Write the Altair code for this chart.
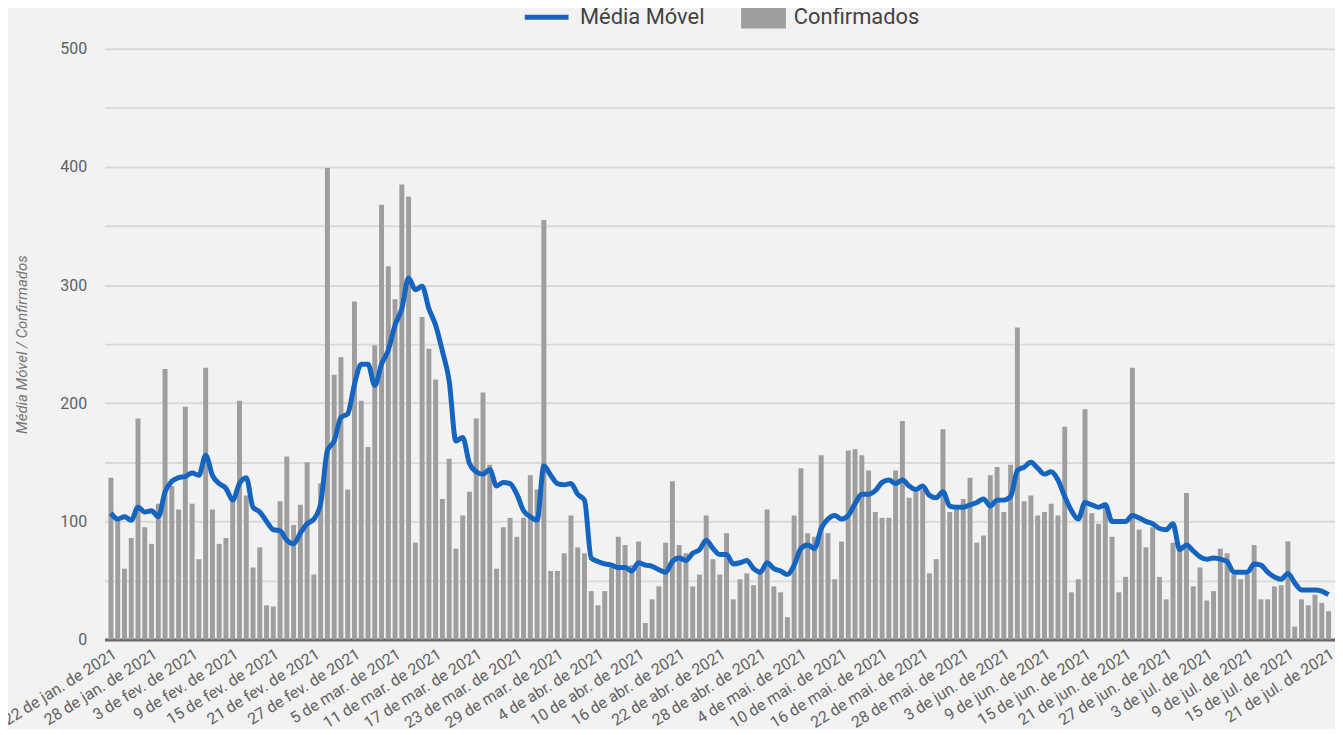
import datetime as dt
import altair as alt
import pandas as pd

# Casos confirmados diários
confirmados = [
    137, 103, 60, 86, 187, 95, 81, 115, 229, 130,
    110, 197, 115, 68, 230, 110, 81, 86, 118, 202,
    122, 61, 78, 29, 28, 117, 155, 97, 114, 150,
    55, 132, 399, 224, 239, 127, 286, 202, 163, 249,
    368, 316, 288, 385, 375, 82, 273, 246, 220, 119,
    153, 77, 105, 125, 187, 209, 148, 60, 95, 103,
    87, 103, 139, 127, 355, 58, 58, 73, 105, 78,
    73, 41, 29, 41, 61, 87, 80, 63, 83, 14,
    34, 45, 82, 134, 80, 73, 45, 55, 105, 68,
    55, 90, 34, 51, 56, 46, 57, 110, 45, 40,
    19, 105, 145, 90, 87, 156, 90, 51, 83, 160,
    161, 156, 143, 108, 103, 103, 143, 185, 120, 125,
    127, 56, 68, 178, 108, 110, 119, 137, 82, 88,
    139, 146, 108, 148, 264, 117, 122, 105, 108, 115,
    105, 180, 40, 51, 195, 107, 98, 114, 87, 40,
    53, 230, 93, 78, 95, 53, 34, 82, 80, 124,
    45, 61, 33, 41, 77, 73, 55, 51, 55, 80,
    34, 34, 45, 46, 83, 11, 34, 29, 38, 31,
    24,
]

# Média móvel
media_movel = [
    107, 102, 104, 101, 112, 108, 109, 104, 125, 134,
    137, 138, 141, 139, 156, 139, 132, 128, 118, 132,
    137, 112, 108, 100, 93, 92, 84, 81, 90, 98,
    102, 115, 160, 168, 188, 191, 216, 233, 233, 215,
    233, 245, 266, 280, 306, 296, 299, 280, 266, 244,
    219, 168, 171, 149, 142, 140, 144, 130, 133, 132,
    123, 109, 104, 101, 147, 139, 132, 131, 132, 123,
    118, 69, 66, 64, 63, 61, 61, 58, 65, 63,
    62, 59, 57, 66, 69, 67, 73, 76, 84, 77,
    72, 72, 64, 65, 67, 60, 57, 65, 60, 58,
    55, 63, 77, 80, 77, 94, 102, 105, 102, 105,
    115, 123, 123, 126, 133, 135, 132, 135, 130, 127,
    130, 122, 120, 125, 113, 112, 112, 114, 116, 119,
    113, 118, 118, 121, 143, 146, 150, 145, 140, 142,
    135, 121, 109, 102, 116, 114, 112, 114, 100, 100,
    100, 105, 103, 100, 98, 94, 93, 98, 76, 80,
    75, 70, 68, 69, 68, 66, 57, 57, 57, 64,
    63, 57, 53, 51, 56, 48, 42, 42, 42, 41,
    38,
]

MESES = ["jan.", "fev.", "mar.", "abr.", "mai.", "jun.", "jul."]
inicio = dt.date(2021, 1, 22)
dias = [inicio + dt.timedelta(days=i) for i in range(len(confirmados))]
rotulos = [f"{d.day} de {MESES[d.month - 1]} de {d.year}" for d in dias]
rotulos_eixo = rotulos[::6]

df = pd.DataFrame({
    "dia": rotulos,
    "conf": confirmados,
    "media": media_movel,
    "serie_bar": "Confirmados",
    "serie_linha": "Média Móvel",
})

FONT = "Roboto"

x_enc = alt.X(
    "dia:N",
    sort=None,
    scale=alt.Scale(paddingInner=0.27, paddingOuter=0.59),
    axis=alt.Axis(
        values=rotulos_eixo, labelAngle=-32, labelAlign="right", labelBaseline="top",
        labelPadding=6, ticks=False, tickSize=0, domain=True, domainColor="#666666",
        domainWidth=3, grid=False, title=None, labelFontSize=16, labelColor="#616161",
        labelOverlap=False, labelFont=FONT, labelBound=False,
    ),
)

y_axis = alt.Axis(
    values=list(range(0, 501, 50)),
    labelExpr="datum.value % 100 == 0 ? datum.label : ''",
    domain=False, ticks=False, tickSize=0, labelPadding=18,
    labelFontSize=16, labelColor="#616161", labelFont=FONT,
    grid=True, gridColor="#d9d9d9", gridWidth=2,
    title="Média Móvel / Confirmados", titleFontStyle="italic", titleFontWeight="normal",
    titleFontSize=15, titleColor="#757575", titleFont=FONT, titlePadding=30,
)
y_scale = alt.Scale(domain=[0, 500], nice=False)

barras = alt.Chart(df).mark_bar(color="#9e9e9e").encode(
    x=x_enc,
    y=alt.Y("conf:Q", scale=y_scale, axis=y_axis),
    fill=alt.Fill(
        "serie_bar:N",
        scale=alt.Scale(domain=["Confirmados"], range=["#9e9e9e"]),
        legend=alt.Legend(
            title=None, orient="none", legendX=640, legendY=-54,
            symbolType="M-1,-0.5H1V0.5H-1Z", symbolSize=2025, symbolStrokeWidth=0,
            labelFontSize=22, labelFont=FONT, labelColor="#424242", labelOffset=8, padding=0,
        ),
    ),
)

linha = alt.Chart(df).mark_line(strokeWidth=5, interpolate="monotone").encode(
    x=x_enc,
    y=alt.Y("media:Q", scale=y_scale, axis=y_axis),
    stroke=alt.Stroke(
        "serie_linha:N",
        scale=alt.Scale(domain=["Média Móvel"], range=["#1565c0"]),
        legend=alt.Legend(
            title=None, orient="none", legendX=420, legendY=-56,
            symbolType="stroke", symbolSize=1936, symbolStrokeWidth=5,
            labelFontSize=22, labelFont=FONT, labelColor="#424242", labelOffset=9, padding=0,
        ),
    ),
)

chart = alt.layer(barras, linha).properties(
    width=1237,
    height=594,
    autosize=alt.AutoSizeParams(type="none"),
    padding={"left": 97, "top": 39, "right": 0, "bottom": 88},
).configure(
    background="#f2f2f2",
).configure_view(stroke=None)

chart.save("out.html", embed_options={"renderer": "svg", "actions": False})
